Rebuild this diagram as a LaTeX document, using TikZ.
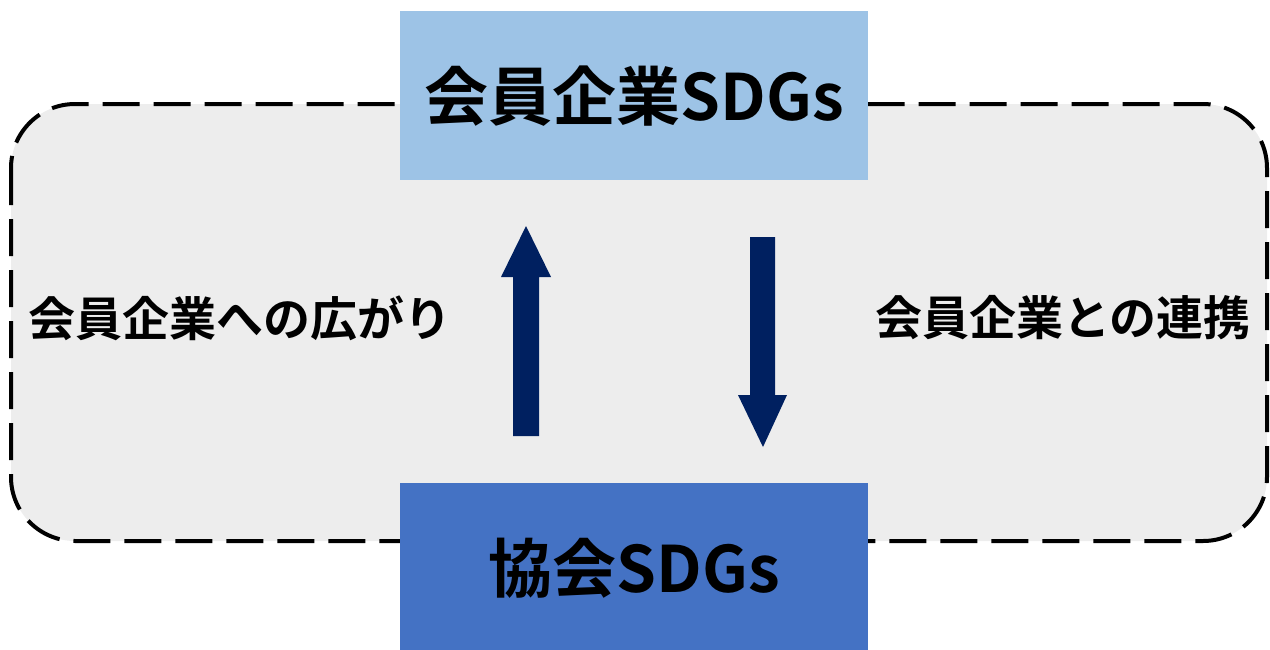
\documentclass[tikz,border=0pt]{standalone}
\usepackage{fontspec}
\newfontfamily\jp{Noto Sans CJK JP}[BoldFont={Noto Sans CJK JP Bold}]
\definecolor{lightbox}{HTML}{9DC3E6}
\definecolor{darkbox}{HTML}{4472C4}
\definecolor{panel}{HTML}{EDEDED}
\definecolor{navy}{HTML}{002060}
\tikzset{
  panelbox/.style={draw=black, fill=panel, line width=4pt, dash pattern=on 37pt off 14pt, rounded corners=64pt},
  sdgbox/.style={draw=none, minimum width=468pt, minimum height=169pt, inner sep=0pt, font=\jp\bfseries\fontsize{64pt}{70pt}\selectfont},
  sidelabel/.style={inner sep=0pt, font=\jp\bfseries\fontsize{47pt}{52pt}\selectfont},
  bigarrow/.style={fill=navy, draw=none}
}
\begin{document}
\begin{tikzpicture}[x=1pt,y=-1pt]
\useasboundingbox (0,0) rectangle (1270,649);
\draw[panelbox] (11,104) rectangle (1267,541);
\node[sdgbox, fill=lightbox, anchor=north west] (top) at (400,11) {会員企業SDGs};
\node[sdgbox, fill=darkbox, anchor=north west, minimum height=170pt] (bottom) at (400,483) {協会SDGs};
\node[sidelabel] (left) at (240,318) {会員企業への広がり};
\node[sidelabel] (right) at (1063,318) {会員企業との連携};
\fill[bigarrow] (513,436) -- (513,277) -- (501,277) -- (526,226) -- (551,277) -- (539,277) -- (539,436) -- cycle;
\fill[bigarrow] (750,237) -- (775,237) -- (775,395) -- (787,395) -- (763,447) -- (738,395) -- (750,395) -- cycle;
\end{tikzpicture}
\end{document}
